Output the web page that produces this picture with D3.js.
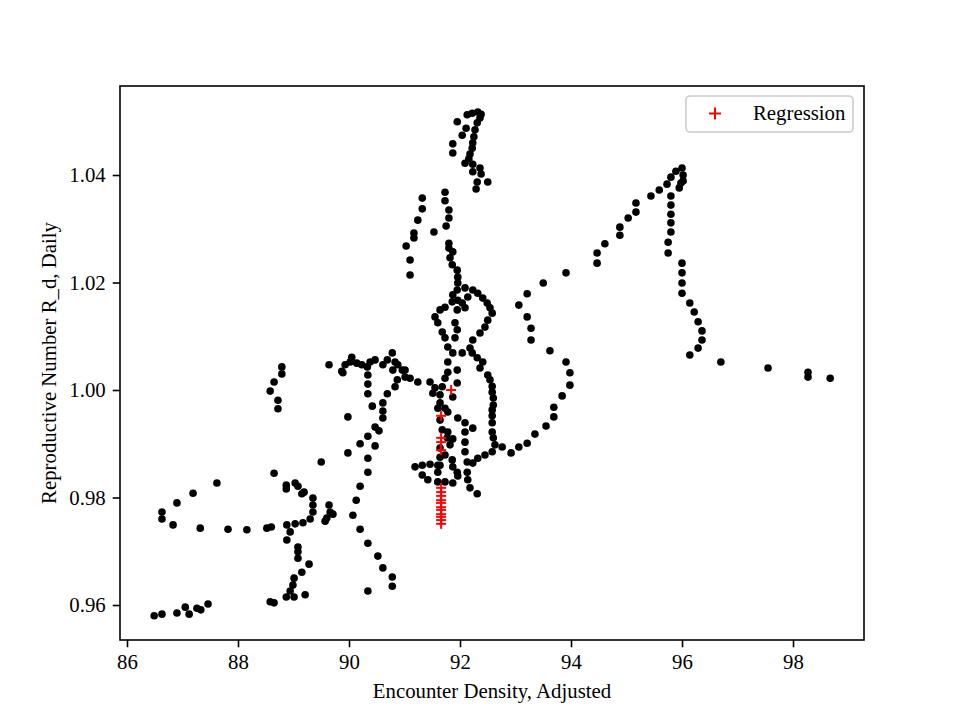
<!DOCTYPE html>
<html>
<head>
<meta charset="utf-8">
<script src="https://cdn.jsdelivr.net/npm/d3@7"></script>
<style>
  html, body { margin: 0; padding: 0; background: #fff; }
  svg { display: block; font-family: "Liberation Serif", "DejaVu Serif", serif; }
</style>
</head>
<body>
<script>
// Observed trajectory: x = Encounter Density (adjusted), y = Reproductive Number R_d (daily)
const encounterDensity = [
  86.49,86.63,86.90,87.05,87.12,87.26,87.33,87.46,
  86.63,86.63,86.83,86.90,87.19,87.62,87.32,87.82,88.16,88.52,88.60,
  88.65,88.87,88.87,89.03,89.08,89.15,89.19,89.35,89.35,89.35,89.30,89.17,89.03,88.88,88.94,88.88,89.08,89.08,89.08,89.28,89.15,89.01,88.99,88.94,88.87,89.01,89.21,88.58,88.65,89.50,89.64,89.66,89.71,89.60,89.57,
  88.79,88.79,88.65,88.58,88.72,88.72,
  89.98,89.98,90.34,90.78,90.78,90.61,90.52,90.34,90.20,90.07,90.13,90.20,90.34,90.34,90.47,90.20,90.34,90.47,90.54,90.61,90.61,90.61,90.69,90.83,90.87,91.01,90.79,90.96,90.88,90.83,90.61,90.69,90.78,
  89.64,89.87,89.89,89.93,90.02,90.05,90.14,90.23,90.33,90.38,90.47,90.34,90.34,90.34,90.42,
  91.01,91.10,91.24,91.46,91.51,91.55,
  91.03,91.10,91.10,91.17,91.17,91.24,91.32,91.32,91.53,91.73,91.73,91.80,91.80,91.75,
  91.95,92.11,92.04,91.87,91.87,92.13,92.22,92.32,92.38,92.36,92.31,92.27,92.25,92.23,92.22,92.18,92.16,92.09,92.23,92.36,92.23,92.38,92.31,92.50,92.29,
  91.80,91.80,91.87,91.82,91.86,91.95,91.96,91.96,91.95,92.09,92.23,92.32,92.41,92.49,92.54,92.58,92.50,92.45,92.36,92.23,92.18,92.22,92.31,92.41,92.36,92.50,92.54,92.58,92.58,92.60,92.60,92.58,92.58,92.58,92.58,92.60,92.63,92.58,92.45,92.32,92.23,
  91.87,91.86,91.73,91.64,91.55,91.60,91.68,91.73,91.78,91.87,92.04,
  92.04,92.09,91.95,91.96,92.14,
  91.91,91.95,91.91,
  91.78,91.78,91.95,91.95,91.87,91.73,91.68,91.64,91.64,91.60,91.73,91.78,91.64,91.68,91.78,91.77,91.87,91.82,91.64,91.73,91.86,91.87,91.95,91.96,91.64,91.64,
  91.96,92.09,92.23,92.09,92.09,92.09,92.13,92.13,92.14,92.18,92.31,
  91.19,91.32,91.46,91.60,91.60,91.32,91.42,91.60,91.73,91.87,
  92.76,92.92,93.06,93.21,93.35,93.55,93.69,93.69,93.84,93.98,93.98,93.91,93.62,93.28,93.28,93.21,93.06,93.21,93.50,93.91,94.47,94.47,94.61,94.88,94.88,95.03,95.17,95.17,95.44,95.59,95.73,95.80,95.89,96.00,96.02,96.02,95.98,95.95,95.80,95.80,95.80,95.80,95.80,95.75,95.75,96.00,96.00,96.00,96.00,96.14,96.22,96.29,96.36,96.36,96.29,96.14,96.70,97.55,98.27,98.27,98.67
];
const reproNumber = [
  0.9580,0.9583,0.9585,0.9596,0.9583,0.9594,0.9591,0.9602,
  0.9773,0.9760,0.9749,0.9790,0.9808,0.9827,0.9743,0.9741,0.9740,0.9743,0.9745,
  0.9845,0.9823,0.9816,0.9827,0.9821,0.9807,0.9810,0.9799,0.9786,0.9773,0.9760,0.9753,0.9751,0.9749,0.9736,0.9721,0.9708,0.9699,0.9687,0.9676,0.9661,0.9650,0.9637,0.9626,0.9615,0.9615,0.9619,0.9606,0.9604,0.9866,0.9786,0.9773,0.9769,0.9762,0.9756,
  1.0043,1.0030,1.0015,0.9998,0.9981,0.9965,
  0.9950,0.9883,0.9626,0.9635,0.9652,0.9669,0.9691,0.9715,0.9741,0.9767,0.9795,0.9821,0.9847,0.9873,0.9896,0.9900,0.9914,0.9931,0.9924,0.9948,0.9961,0.9976,0.9993,1.0006,1.0019,1.0024,1.0037,1.0037,1.0047,1.0052,1.0047,1.0056,1.0069,
  1.0047,1.0035,1.0032,1.0047,1.0052,1.0061,1.0050,1.0047,1.0043,1.0052,1.0056,1.0028,1.0011,0.9993,0.9970,
  1.0037,1.0022,1.0015,1.0015,0.9994,1.0004,
  1.0268,1.0242,1.0214,1.0292,1.0283,1.0316,1.0337,1.0357,1.0294,1.0368,1.0352,1.0335,1.0320,1.0305,
  1.0499,1.0487,1.0474,1.0458,1.0441,1.0512,1.0515,1.0517,1.0513,1.0506,1.0497,1.0484,1.0471,1.0460,1.0450,1.0439,1.0430,1.0422,1.0420,1.0413,1.0406,1.0402,1.0387,1.0387,1.0374,
  1.0273,1.0264,1.0257,1.0246,1.0233,1.0223,1.0210,1.0199,1.0186,1.0190,1.0186,1.0180,1.0171,1.0162,1.0153,1.0143,1.0130,1.0117,1.0106,1.0093,1.0078,1.0069,1.0060,1.0052,1.0041,1.0028,1.0019,1.0007,0.9996,0.9985,0.9972,0.9963,0.9952,0.9939,0.9922,0.9911,0.9898,0.9885,0.9879,0.9873,0.9864,
  1.0177,1.0164,1.0154,1.0149,1.0136,1.0125,1.0108,1.0097,1.0080,1.0069,1.0069,
  1.0162,1.0153,1.0149,1.0167,1.0173,
  1.0125,1.0112,1.0097,
  1.0052,1.0033,1.0037,1.0013,0.9987,1.0022,1.0006,0.9991,0.9976,0.9966,0.9966,0.9959,0.9944,0.9926,0.9922,0.9911,0.9909,0.9898,0.9892,0.9879,0.9870,0.9857,0.9847,0.9840,0.9875,0.9860,
  0.9948,0.9939,0.9929,0.9922,0.9903,0.9885,0.9866,0.9847,0.9833,0.9818,0.9807,
  0.9857,0.9860,0.9862,0.9860,0.9847,0.9842,0.9833,0.9829,0.9829,0.9827,
  0.9894,0.9883,0.9894,0.9901,0.9918,0.9933,0.9950,0.9968,0.9989,1.0009,1.0032,1.0052,1.0073,1.0093,1.0115,1.0136,1.0158,1.0179,1.0199,1.0218,1.0236,1.0255,1.0272,1.0288,1.0303,1.0320,1.0331,1.0348,1.0361,1.0372,1.0383,1.0396,1.0407,1.0413,1.0400,1.0389,1.0385,1.0376,1.0361,1.0344,1.0327,1.0311,1.0294,1.0275,1.0255,1.0236,1.0218,1.0199,1.0180,1.0162,1.0145,1.0127,1.0110,1.0093,1.0078,1.0065,1.0052,1.0041,1.0033,1.0024,1.0022
];

// Regression estimates (red crosses)
const regressionX = [91.84,91.66,91.66,91.66,91.66,91.66,91.66,91.66,91.66,91.66,91.66,91.66,91.66,91.66,91.66,91.66];
const regressionY = [1.0000,0.9952,0.9911,0.9903,0.9888,0.9818,0.9810,0.9803,0.9795,0.9790,0.9782,0.9777,0.9769,0.9764,0.9758,0.9751];

const xTicks = [86, 88, 90, 92, 94, 96, 98];
const yTicks = [0.96, 0.98, 1.00, 1.02, 1.04];
const xLabel = "Encounter Density, Adjusted";
const yLabel = "Reproductive Number R_d, Daily";
const legendLabel = "Regression";

const W = 960, H = 720;
const m = { left: 120, right: 864, top: 86, bottom: 640 };
const FS = "20.8px";

const svg = d3.select("body").append("svg").attr("width", W).attr("height", H);

const x = d3.scaleLinear().domain([85.874, 99.279]).range([m.left, m.right]);
const y = d3.scaleLinear().domain([0.95349, 1.05656]).range([m.bottom, m.top]);

const pts = encounterDensity.map((v, i) => [v, reproNumber[i]]);
svg.append("g").selectAll("circle").data(pts).join("circle")
  .attr("cx", d => x(d[0])).attr("cy", d => y(d[1])).attr("r", 3.8)
  .attr("fill", "#000");

const reg = regressionX.map((v, i) => [v, regressionY[i]]);
const plus = (g, cx, cy, s) => {
  g.append("line").attr("x1", cx - s).attr("x2", cx + s).attr("y1", cy).attr("y2", cy);
  g.append("line").attr("x1", cx).attr("x2", cx).attr("y1", cy - s).attr("y2", cy + s);
};
const regG = svg.append("g").attr("stroke", "#ff0000").attr("stroke-width", 2);
reg.forEach(d => plus(regG, x(d[0]), y(d[1]), 5));

// axes
const xAxis = d3.axisBottom(x).tickValues(xTicks).tickFormat(d3.format("d")).tickSizeOuter(0).tickSize(7.3).tickPadding(7);
const yAxis = d3.axisLeft(y).tickValues(yTicks).tickFormat(d3.format(".2f")).tickSizeOuter(0).tickSize(7.3).tickPadding(7);

const gx = svg.append("g").attr("transform", `translate(0,${m.bottom})`).call(xAxis);
const gy = svg.append("g").attr("transform", `translate(${m.left},0)`).call(yAxis);
[gx, gy].forEach(g => {
  g.select(".domain").remove();
  g.selectAll(".tick line").attr("stroke", "#000").attr("stroke-width", 1.6);
  g.selectAll(".tick text").attr("fill", "#000").style("font-size", FS).style("font-family", '"Liberation Serif", serif');
});

// frame
svg.append("rect").attr("x", m.left).attr("y", m.top)
  .attr("width", m.right - m.left).attr("height", m.bottom - m.top)
  .attr("fill", "none").attr("stroke", "#000").attr("stroke-width", 1.6);

// labels
svg.append("text").attr("x", (m.left + m.right) / 2).attr("y", 698)
  .attr("text-anchor", "middle").style("font-size", FS).text(xLabel);
svg.append("text").attr("transform", `translate(56,${(m.top + m.bottom) / 2}) rotate(-90)`)
  .attr("text-anchor", "middle").style("font-size", FS).text(yLabel);

// legend
const lg = svg.append("g");
lg.append("rect").attr("x", 686).attr("y", 96).attr("width", 167).attr("height", 36).attr("rx", 4)
  .attr("fill", "#fff").attr("fill-opacity", 0.8).attr("stroke", "#cccccc").attr("stroke-width", 1.6);
const lgPlus = lg.append("g").attr("stroke", "#ff0000").attr("stroke-width", 2);
plus(lgPlus, 715, 113.5, 6);
lg.append("text").attr("x", 753).attr("y", 120).style("font-size", FS).text(legendLabel);
</script>
</body>
</html>
